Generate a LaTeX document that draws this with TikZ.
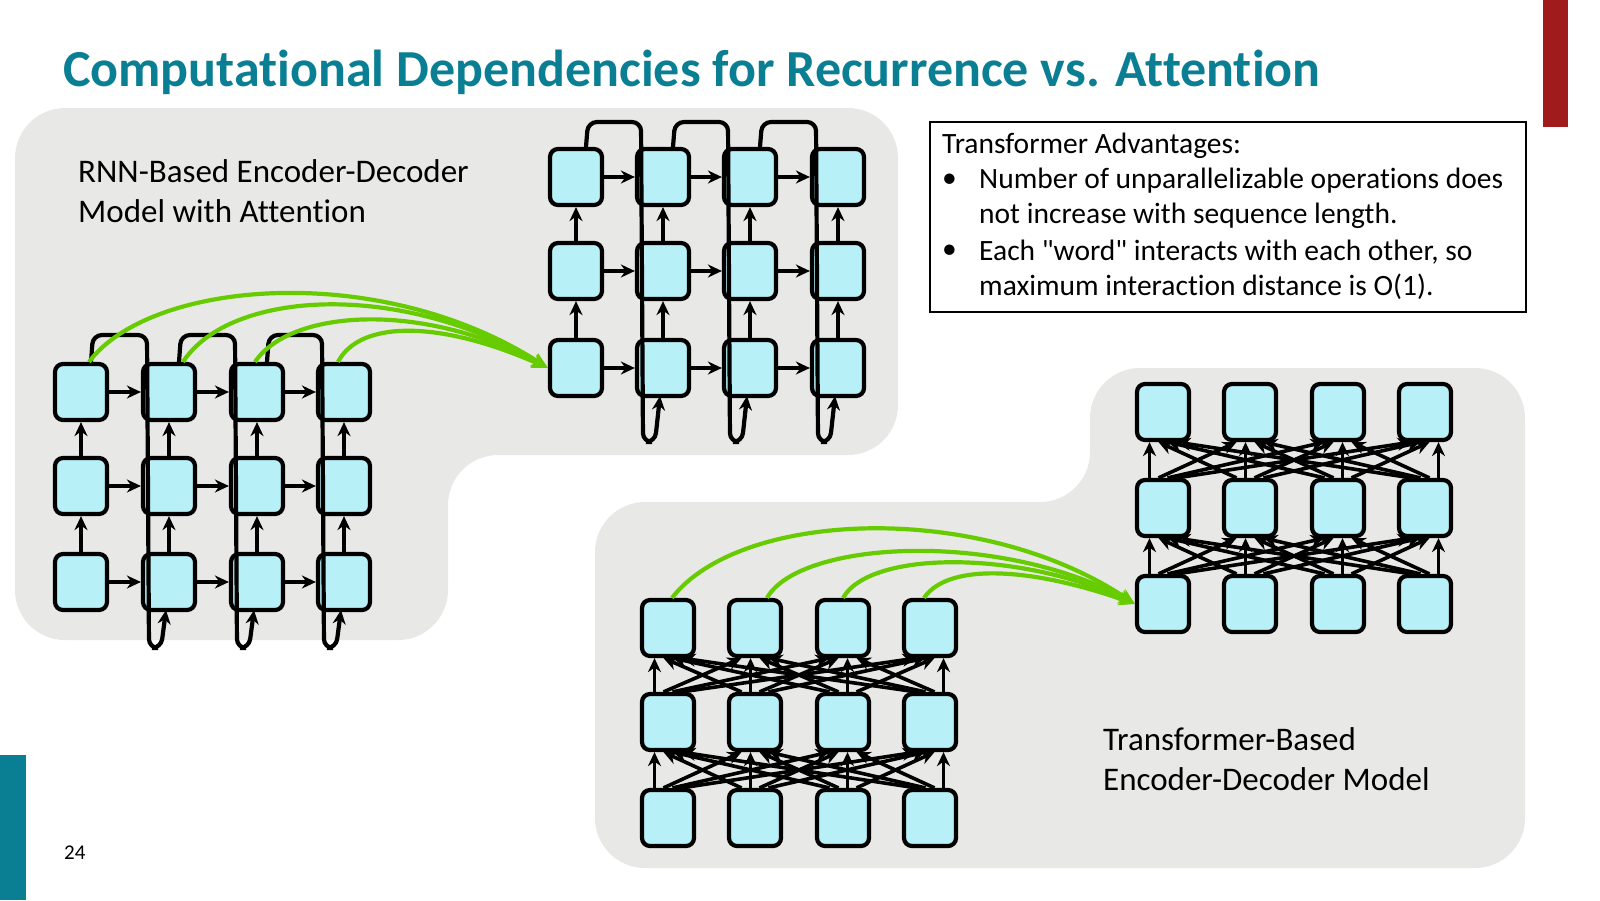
\documentclass[tikz,border=0pt]{standalone}
\usepackage{fontspec}
\setmainfont{Carlito}[Ligatures={NoCommon}]
\newfontfamily\plainq{Carlito}[Ligatures={ResetAll}]
\usetikzlibrary{arrows.meta}
\definecolor{teal}{HTML}{0A7F94}
\definecolor{bar}{HTML}{A01C1C}
\definecolor{region}{HTML}{E8E9E7}
\definecolor{cell}{HTML}{B8F0F8}
\definecolor{grn}{HTML}{66CC00}
\newcommand{\sq}{{\plainq\char34}}
\begin{document}
\begin{tikzpicture}[x=1pt,y=-1pt,
  cellbox/.style={draw=black,line width=4.2pt,fill=cell,rounded corners=8pt,minimum width=52pt,minimum height=56pt,inner sep=0pt},
  con/.style={line width=4.2pt,-{Stealth[length=14pt,width=13pt]}},
  loop/.style={line width=4.2pt,rounded corners=9pt,-{Stealth[length=14pt,width=13pt]}},
  att/.style={grn,line width=4.2pt,-{Stealth[length=16pt,width=14pt]}},
  lbl/.style={font=\fontsize{33}{40}\selectfont,anchor=west,inner sep=0pt},
  adv/.style={font=\fontsize{29.5}{35}\selectfont,anchor=west,inner sep=0pt}]
\useasboundingbox (0,0) rectangle (1600,900);
\fill[white] (0,0) rectangle (1600,900);
% bars
\fill[bar] (1543,0) rectangle (1568,127);
\fill[teal] (0,755) rectangle (26,900);
\node[anchor=west,inner sep=0pt,text=teal,font=\fontsize{52}{60}\selectfont\bfseries] (title) at (63,72) {Computational Dependencies for Recurrence vs. Attention};
\node[anchor=west,inner sep=0pt,font=\fontsize{21}{24}\selectfont] (pg) at (64,853) {24};
% regions
\fill[region,rounded corners=50pt] (15,108) -- (898,108) -- (898,455) -- (448,455) -- (448,640) -- (15,640) -- cycle;
\fill[region,rounded corners=50pt] (595,502) -- (1090,502) -- (1090,368) -- (1525,368) -- (1525,868) -- (595,868) -- cycle;
% labels
\node[lbl] (l1) at (78,171) {RNN-Based Encoder-Decoder};
\node[lbl] (l2) at (78,211) {Model with Attention};
\node[lbl] (l3) at (1103,739) {Transformer-Based};
\node[lbl] (l4) at (1103,779) {Encoder-Decoder Model};
% advantages box
\draw[line width=1.5pt,fill=white] (930,122) rectangle (1526,312);
\node[adv] (a1) at (942,146) {Transformer Advantages:};
\node[adv] (b1) at (942,181) {•};
\node[adv] (a2) at (979,181) {Number of unparallelizable operations does};
\node[adv] (a3) at (979,216) {not increase with sequence length.};
\node[adv] (b2) at (942,252) {•};
\node[adv] (a4) at (979,252) {Each \sq word\sq\ interacts with each other, so};
\node[adv] (a5) at (979,287) {maximum interaction distance is O(1).};
% grids
\foreach \g/\xs/\ys in {re/{81,169,257,344}/{582,486,392}, rd/{576,663,750,838}/{368,271,177}, te/{668,755,843,930}/{818,722,628}, td/{1163,1250,1338,1425}/{604,508,412}}{
  \foreach \x [count=\c] in \xs {
    \foreach \y [count=\r] in \ys {
      \node[cellbox] (\g-\r-\c) at (\x,\y) {};
    }
  }
}
% RNN connections
\foreach \g in {re,rd}{
  \foreach \c in {1,...,4}{
    \draw[con] (\g-1-\c.north) -- (\g-2-\c.south);
    \draw[con] (\g-2-\c.north) -- (\g-3-\c.south);
  }
  \foreach \r in {1,2,3}{
    \foreach \c/\d in {1/2,2/3,3/4}{
      \draw[con] (\g-\r-\c.east) -- (\g-\r-\d.west);
    }
  }
}
% recurrence loops
\foreach \g/\top/\bot in {re/335/648, rd/122/442}{
  \foreach \c/\d in {1/2,2/3,3/4}{
    \draw[loop] ([xshift=10pt]\g-3-\c.north) -- ([xshift=12pt]\g-3-\c.north |- 0,\top) -- ([xshift=-22pt]\g-3-\d.north |- 0,\top) -- ([xshift=-20pt]\g-1-\d.south |- 0,\bot) -- ([xshift=-8pt]\g-1-\d.south |- 0,\bot) -- ([xshift=-3pt,yshift=2pt]\g-1-\d.south);
  }
}
% Transformer connections
\foreach \g in {te,td}{
  \foreach \r/\s in {1/2,2/3}{
    \foreach \c in {1,...,4}{
      \foreach \d in {1,...,4}{
        \draw[con,line width=3.6pt] ([xshift={(\d-2.5)*9pt}]\g-\r-\c.north) -- ([xshift={(\c-2.5)*9pt}]\g-\s-\d.south);
      }
    }
  }
}
% attention (green)
\draw[att] ([xshift=8pt]re-3-1.north) .. controls (150,280) and (380,260) .. (rd-1-1.west);
\draw[att] ([xshift=14pt]re-3-2.north) .. controls (230,290) and (400,280) .. (rd-1-1.west);
\draw[att] ([xshift=-2pt]re-3-3.north) .. controls (290,310) and (420,300) .. (rd-1-1.west);
\draw[att] ([xshift=-6pt]re-3-4.north) .. controls (360,320) and (440,320) .. (rd-1-1.west);
\draw[att] ([xshift=4pt]te-3-1.north) .. controls (740,510) and (980,500) .. (td-1-1.west);
\draw[att] ([xshift=12pt]te-3-2.north) .. controls (800,540) and (1000,530) .. (td-1-1.west);
\draw[att] ([xshift=0pt]te-3-3.north) .. controls (870,550) and (1020,550) .. (td-1-1.west);
\draw[att] ([xshift=-6pt]te-3-4.north) .. controls (950,560) and (1040,570) .. (td-1-1.west);
\end{tikzpicture}
\end{document}
